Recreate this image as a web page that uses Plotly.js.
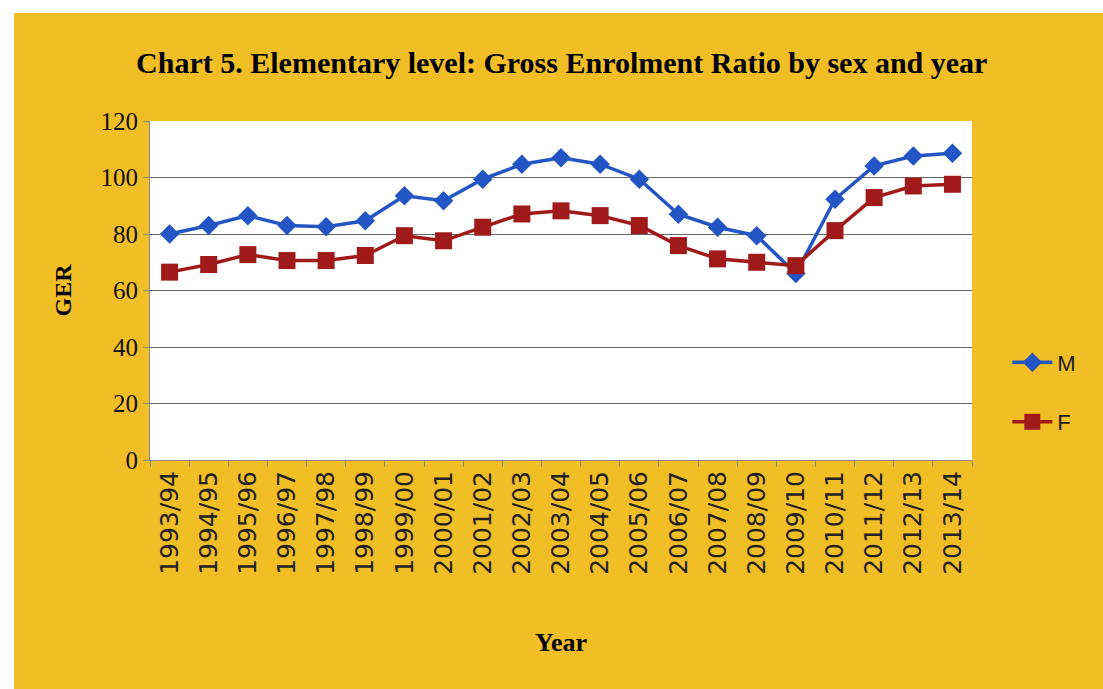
<!DOCTYPE html>
<html>
<head>
<meta charset="utf-8">
<script src="https://cdn.plot.ly/plotly-3.0.1.min.js"></script>
<style>
html,body{margin:0;padding:0;background:#ffffff;width:1103px;height:689px;overflow:hidden;}
#chart{position:absolute;left:14px;top:13px;width:1089px;height:676px;}
</style>
</head>
<body>
<div id="chart"></div>
<script>
const years = ["1993/94","1994/95","1995/96","1996/97","1997/98","1998/99","1999/00","2000/01","2001/02","2002/03","2003/04","2004/05","2005/06","2006/07","2007/08","2008/09","2009/10","2010/11","2011/12","2012/13","2013/14"];
const maleGER = [80, 83, 86.5, 83, 82.6, 84.7, 93.5, 91.8, 99.4, 104.7, 107, 104.7, 99.4, 87, 82.4, 79.4, 66, 92.3, 104.1, 107.6, 108.6];
const femaleGER = [66.5, 69.2, 72.7, 70.6, 70.6, 72.4, 79.4, 77.6, 82.4, 87.1, 88.2, 86.5, 83, 75.9, 71.2, 70, 68.8, 81.2, 92.9, 97, 97.6];
const yTicks = [0, 20, 40, 60, 80, 100, 120];

const traces = [
  {
    x: years, y: maleGER, name: "M", type: "scatter", mode: "lines+markers",
    legendgroup: "m",
    line: {color: "#2356C4", width: 3.5},
    marker: {symbol: "diamond", size: 15, color: "#2356C4"}
  },
  {
    x: years, y: femaleGER, name: "F", type: "scatter", mode: "lines+markers",
    legendgroup: "f",
    line: {color: "#A01A1A", width: 3.5},
    marker: {symbol: "square", size: 17, color: "#A01A1A"}
  }
];

const layout = {
  width: 1089, height: 676,
  paper_bgcolor: "#F1BE26",
  plot_bgcolor: "#ffffff",
  margin: {l: 136, r: 131, t: 108, b: 229},
  title: {
    text: "<b>Chart 5. Elementary level: Gross Enrolment Ratio by sex and year</b>",
    font: {family: "Liberation Serif", size: 30, color: "#000000"},
    x: 0.503, xanchor: "center", y: 0.927, yanchor: "middle"
  },
  showlegend: true,
  legend: {
    x: 1.043, xanchor: "left", y: 0.35, yanchor: "top",
    bgcolor: "rgba(0,0,0,0)",
    font: {family: "Liberation Sans", size: 22, color: "#1a1a1a"},
    tracegroupgap: 28, itemwidth: 40
  },
  xaxis: {
    type: "category",
    range: [-0.5, 20.5],
    tickson: "boundaries",
    ticks: "outside", ticklen: 6, tickcolor: "#888",
    tickangle: -90,
    tickfont: {family: "DejaVu Sans", size: 25, color: "#222"},
    showline: true, linecolor: "#888", linewidth: 1,
    showgrid: false,
    title: {text: "<b>Year</b>", font: {family: "Liberation Serif", size: 26, color: "#000"}, standoff: 58},
    automargin: false, fixedrange: true
  },
  yaxis: {
    range: [0, 120],
    tickvals: yTicks,
    ticks: "outside", ticklen: 6, tickcolor: "#888",
    tickfont: {family: "Liberation Serif", size: 25, color: "#111"},
    showline: true, linecolor: "#888", linewidth: 1,
    showgrid: true, gridcolor: "#666", gridwidth: 1,
    zeroline: false,
    title: {text: "<b>GER</b>", font: {family: "Liberation Serif", size: 24, color: "#000"}, standoff: 22},
    automargin: false, fixedrange: true
  }
};

Plotly.newPlot("chart", traces, layout, {displayModeBar: false, staticPlot: true});
</script>
</body>
</html>
